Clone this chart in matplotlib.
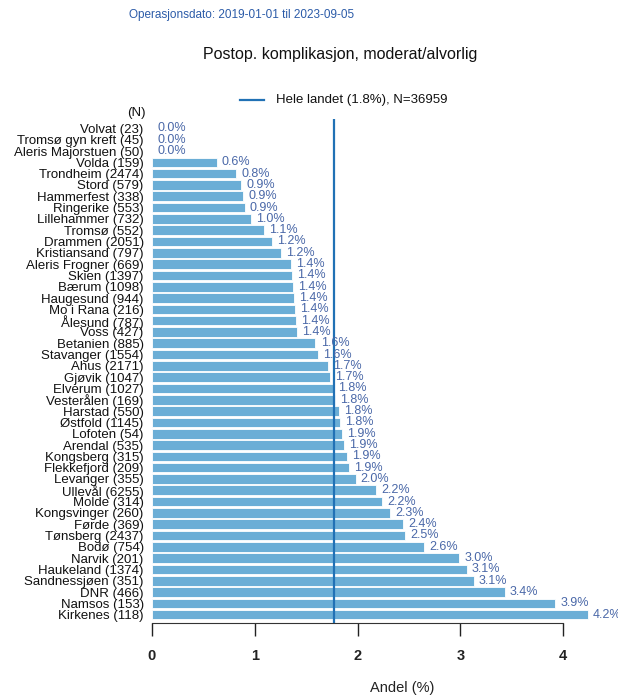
import numpy as np
import matplotlib.pyplot as plt

plt.rcParams['font.family'] = ['Liberation Sans', 'DejaVu Sans']

sykehus = ['Volvat', 'Tromsø gyn kreft', 'Aleris Majorstuen', 'Volda', 'Trondheim',
           'Stord', 'Hammerfest', 'Ringerike', 'Lillehammer', 'Tromsø', 'Drammen',
           'Kristiansand', 'Aleris Frogner', 'Skien', 'Bærum', 'Haugesund', 'Mo i Rana',
           'Ålesund', 'Voss', 'Betanien', 'Stavanger', 'Ahus', 'Gjøvik', 'Elverum',
           'Vesterålen', 'Harstad', 'Østfold', 'Lofoten', 'Arendal', 'Kongsberg',
           'Flekkefjord', 'Levanger', 'Ullevål', 'Molde', 'Kongsvinger', 'Førde',
           'Tønsberg', 'Bodø', 'Narvik', 'Haukeland', 'Sandnessjøen', 'DNR', 'Namsos',
           'Kirkenes']
antall = [23, 45, 50, 159, 2474, 579, 338, 553, 732, 552, 2051, 797, 669, 1397, 1098,
          944, 216, 787, 427, 885, 1554, 2171, 1047, 1027, 169, 550, 1145, 54, 535, 315,
          209, 355, 6255, 314, 260, 369, 2437, 754, 201, 1374, 351, 466, 153, 118]
andel = [0.0, 0.0, 0.0, 0.63, 0.82, 0.87, 0.89, 0.90, 0.96, 1.09, 1.17, 1.25, 1.35,
         1.36, 1.37, 1.38, 1.39, 1.40, 1.41, 1.59, 1.61, 1.71, 1.73, 1.76, 1.78, 1.82,
         1.83, 1.85, 1.87, 1.90, 1.92, 1.98, 2.18, 2.24, 2.32, 2.44, 2.46, 2.65, 2.99,
         3.06, 3.13, 3.43, 3.92, 4.24]
hele_landet = 1.77
N_totalt = 36959

W, H = 618, 696
fig = plt.figure(figsize=(W/100, H/100), dpi=100)

n = len(sykehus)
px_unit = 10.82
ax_top, ax_bot = 119, 623
ylo = (n - 1) + (ax_bot - 615) / px_unit
yhi = -(128 - ax_top) / px_unit
left_px = 152
xmax = 4.5
ax = fig.add_axes([left_px / W, (H - ax_bot) / H, xmax * 102.8 / W, (ax_bot - ax_top) / H])

bar_col = '#6BAED6'
txt_col = '#4A68A8'
line_col = '#2171B5'

y = np.arange(n)
ax.barh(y, andel, height=0.85, color=bar_col, edgecolor='white', linewidth=0.6)
for yi, v in zip(y, andel):
    ax.text(v + 0.05, yi, '%.1f%%' % v, va='center', ha='left', fontsize=9,
            color=txt_col, clip_on=False)

ax.axvline(hele_landet, color=line_col, lw=1.6)

ax.set_ylim(ylo, yhi)
ax.set_xlim(0, xmax)
ax.set_yticks(y)
ax.set_yticklabels(['%s (%d)' % (s, a) for s, a in zip(sykehus, antall)], fontsize=9.5,
                   color='#111111')
ax.tick_params(axis='y', length=0, pad=6)
ax.set_xticks([0, 1, 2, 3, 4])
ax.tick_params(axis='x', length=9, width=1, direction='out', labelsize=10.5, pad=10,
               colors='#222222')
for lab in ax.get_xticklabels():
    lab.set_fontweight('bold')
for s in ['top', 'right', 'left']:
    ax.spines[s].set_visible(False)
ax.spines['bottom'].set_bounds(0, 4)
ax.spines['bottom'].set_color('#333333')

fig.text(146 / W, 1 - 113 / H, '(N)', ha='right', va='center', fontsize=9.5, color='#111111')
fig.text(402 / W, 1 - 688 / H, 'Andel (%)', ha='center', va='center', fontsize=10.5,
         color='#222222')
fig.text(340 / W, 1 - 55 / H, 'Postop. komplikasjon, moderat/alvorlig', ha='center',
         va='center', fontsize=11.5, color='#111111')
fig.text(242 / W, 1 - 15 / H, 'Operasjonsdato: 2019-01-01 til 2023-09-05', ha='center',
         va='center', fontsize=8.5, color='#2B5BA8')

fig.add_artist(plt.Line2D([240 / W, 264 / W], [1 - 100 / H, 1 - 100 / H], color=line_col, lw=1.6))
fig.text(276 / W, 1 - 100 / H, 'Hele landet (1.8%%), N=%d' % N_totalt, ha='left',
         va='center', fontsize=9.5, color='#111111')

fig.savefig('out.png', dpi=100)
